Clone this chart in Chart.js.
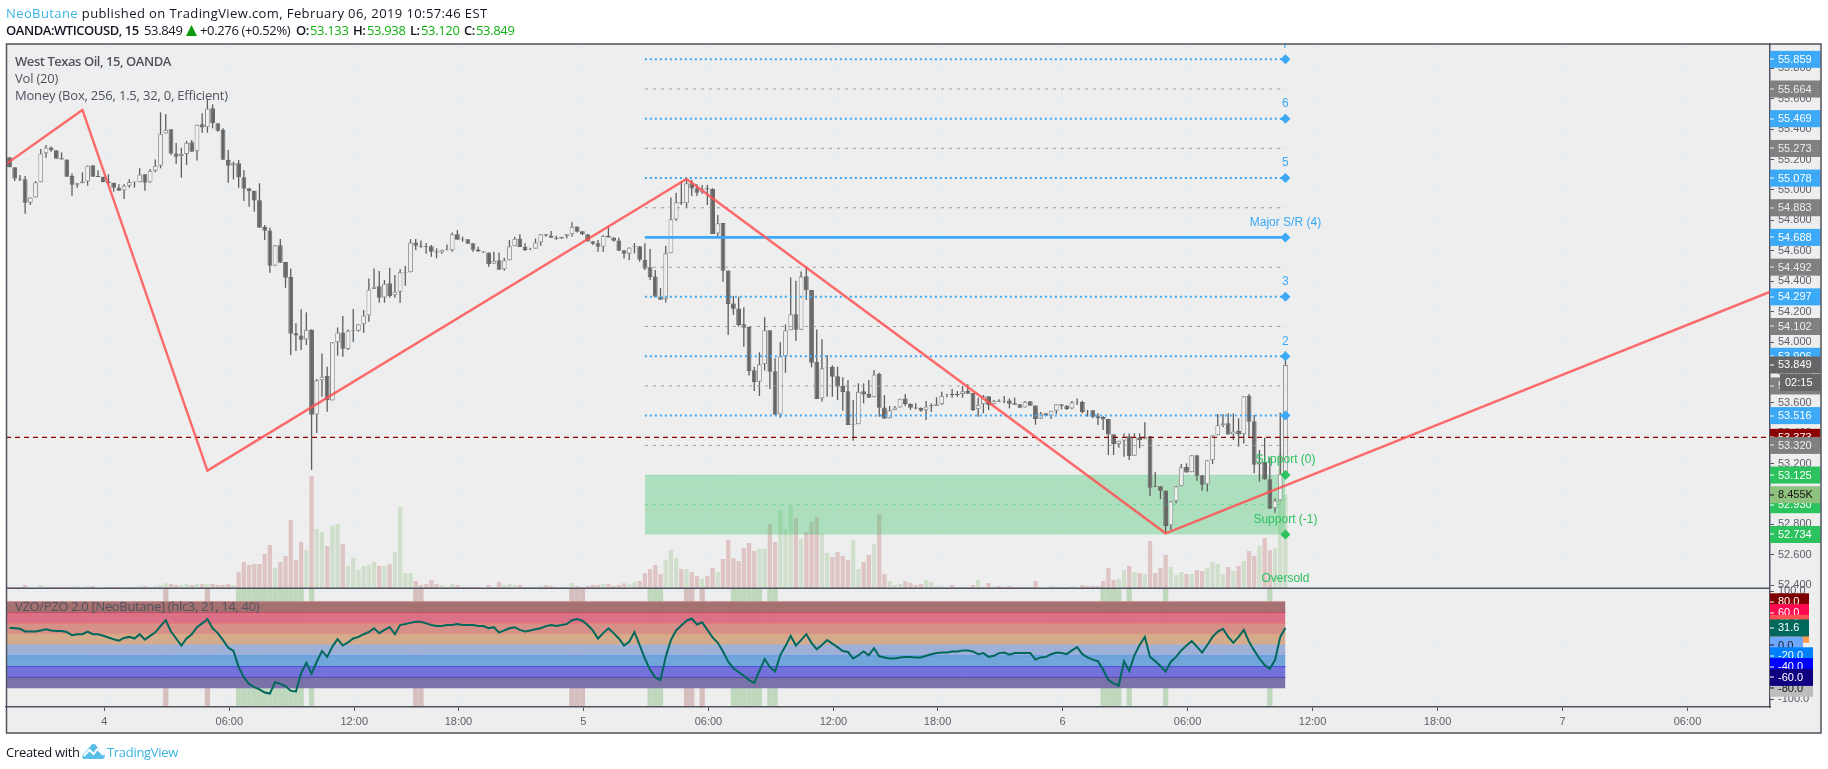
<!DOCTYPE html>
<html><head><meta charset="utf-8">
<style>
html,body{margin:0;padding:0;background:#fff;width:1828px;height:769px;overflow:hidden}
#c{position:absolute;left:0;top:0}
.t{position:absolute;white-space:nowrap;font-family:"Open Sans",sans-serif;font-size:13px;line-height:16px;color:#131722}
.pane{color:#50535E}
.g{color:#14B014}
.b{color:#3BB3E4}
.bd{font-weight:600;letter-spacing:-.45px}
.v{letter-spacing:-.35px}
</style></head><body>
<canvas id="c" width="1828" height="769"></canvas>
<div class="t" style="left:6px;top:5px;letter-spacing:.4px"><span class="b">NeoButane</span> published on TradingView.com, February 06, 2019 10:57:46 EST</div>
<div class="t bd" style="left:6px;top:22px">OANDA:WTICOUSD, 15</div>
<div class="t v" style="left:144px;top:22px">53.849</div>
<svg style="position:absolute;left:186px;top:25px" width="11" height="11" viewBox="0 0 11 11"><path d="M5.5 0L11 11H0Z" fill="#0A9A0A"/></svg>
<div class="t v" style="left:200px;top:22px">+0.276 (+0.52%)</div>
<div class="t bd" style="left:296px;top:22px">O:</div><div class="t v g" style="left:310px;top:22px">53.133</div>
<div class="t bd" style="left:353px;top:22px">H:</div><div class="t v g" style="left:367px;top:22px">53.938</div>
<div class="t bd" style="left:410px;top:22px">L:</div><div class="t v g" style="left:421px;top:22px">53.120</div>
<div class="t bd" style="left:464px;top:22px">C:</div><div class="t v g" style="left:476px;top:22px">53.849</div>
<div class="t pane" style="left:15px;top:53px;font-weight:600;letter-spacing:-.45px">West Texas Oil, 15, OANDA</div>
<div class="t pane" style="left:15px;top:70px;letter-spacing:-.2px">Vol (20)</div>
<div class="t pane" style="left:15px;top:87px;letter-spacing:-.2px">Money (Box, 256, 1.5, 32, 0, Efficient)</div>
<div class="t pane" style="left:15px;top:598px;letter-spacing:-.33px">VZO/PZO 2.0 [NeoButane] (hlc3, 21, 14, 40)</div>
<div class="t" style="left:6px;top:744px;letter-spacing:-.3px">Created with</div>
<svg style="position:absolute;left:81px;top:743px" width="25" height="17" viewBox="0 0 24 17"><path d="M3 16C0 16 0 11 3 10L9 3C11 0 13 0 15 3L21 10C24 11 24 16 21 16Z" fill="#5BBFE8"/><path d="M2 13L8 7L12 11L16 6L22 12" stroke="#fff" stroke-width="2" fill="none"/></svg>
<div class="t b" style="left:107px;top:744px;letter-spacing:-.3px">TradingView</div>
<script src="https://cdn.jsdelivr.net/npm/chart.js@4"></script>
<script>
const opens=[55.215,55.149,55.076,55.070,54.916,54.951,55.050,55.241,55.280,55.261,
55.208,55.201,55.092,55.035,55.044,55.055,55.162,55.092,55.087,55.055,
55.048,55.015,54.997,55.028,55.050,55.050,55.103,55.050,55.127,55.160,
55.372,55.399,55.239,55.223,55.236,55.313,55.254,55.432,55.412,55.537,
55.438,55.394,55.199,55.162,55.175,55.083,55.011,54.995,54.932,54.756,
54.734,54.502,54.636,54.526,54.428,54.057,54.042,54.017,54.083,53.524,
53.748,53.776,53.616,53.998,54.063,53.954,54.072,54.074,54.116,54.175,
54.348,54.366,54.293,54.386,54.307,54.331,54.456,54.458,54.655,54.633,
54.629,54.629,54.596,54.589,54.609,54.603,54.708,54.675,54.675,54.649,
54.609,54.596,54.589,54.515,54.537,54.478,54.537,54.629,54.681,54.627,
54.609,54.614,54.655,54.708,54.701,54.686,54.681,54.695,54.708,54.760,
54.728,54.708,54.662,54.649,54.627,54.699,54.688,54.668,54.603,54.581,
54.625,54.629,54.541,54.491,54.430,54.300,54.281,54.583,54.805,54.919,
54.912,55.044,55.011,54.989,55.011,55.006,54.713,54.783,54.471,54.254,
54.221,54.116,54.099,53.814,53.739,53.853,54.077,53.807,53.524,53.906,
54.077,54.182,54.081,54.432,54.342,53.868,53.629,53.829,53.836,53.774,
53.711,53.676,53.454,53.459,53.676,53.658,53.636,53.790,53.570,53.498,
53.551,53.570,53.629,53.592,53.570,53.566,53.551,53.575,53.579,53.590,
53.654,53.658,53.658,53.658,53.678,53.665,53.557,53.590,53.643,53.590,
53.614,53.614,53.616,53.597,53.590,53.570,53.610,53.583,53.496,53.531,
53.515,53.548,53.590,53.583,53.562,53.603,53.605,53.548,53.551,53.511,
53.507,53.494,53.393,53.329,53.351,53.380,53.252,53.373,53.360,53.380,
53.051,53.051,53.024,52.794,52.952,53.051,53.178,53.143,53.255,53.123,
53.064,53.222,53.386,53.452,53.465,53.391,53.415,53.393,53.645,53.478,
53.195,53.211,53.097,52.906,52.958,53.133];
const closes=[55.149,55.076,55.068,54.916,54.951,55.050,55.239,55.280,55.261,55.206,
55.201,55.087,55.035,55.044,55.055,55.160,55.087,55.085,55.052,55.046,
55.015,54.995,55.028,55.052,55.055,55.101,55.048,55.127,55.160,55.370,
55.396,55.239,55.219,55.236,55.311,55.252,55.429,55.410,55.535,55.438,
55.390,55.199,55.160,55.175,55.083,55.008,54.993,54.930,54.752,54.732,
54.502,54.636,54.522,54.423,54.055,54.042,54.015,54.081,53.522,53.748,
53.772,53.618,53.998,54.063,53.956,54.074,54.078,54.116,54.175,54.346,
54.364,54.291,54.383,54.302,54.331,54.458,54.460,54.655,54.633,54.627,
54.625,54.594,54.589,54.607,54.603,54.708,54.673,54.673,54.646,54.607,
54.596,54.589,54.513,54.535,54.475,54.537,54.629,54.679,54.625,54.605,
54.614,54.655,54.708,54.701,54.686,54.679,54.692,54.708,54.758,54.725,
54.708,54.662,54.646,54.627,54.699,54.688,54.666,54.600,54.581,54.622,
54.629,54.541,54.484,54.428,54.298,54.278,54.583,54.807,54.919,54.912,
55.044,55.009,54.982,55.009,55.004,54.710,54.781,54.469,54.250,54.219,
54.112,54.094,53.809,53.737,53.853,54.077,53.805,53.522,53.906,54.075,
54.182,54.081,54.430,54.340,53.864,53.625,53.827,53.833,53.772,53.706,
53.671,53.454,53.459,53.673,53.654,53.634,53.787,53.568,53.496,53.551,
53.570,53.627,53.592,53.568,53.562,53.548,53.575,53.588,53.590,53.647,
53.658,53.651,53.651,53.676,53.660,53.553,53.588,53.643,53.586,53.614,
53.607,53.610,53.594,53.588,53.568,53.607,53.581,53.494,53.529,53.515,
53.548,53.590,53.581,53.559,53.603,53.607,53.540,53.544,53.509,53.500,
53.491,53.391,53.329,53.351,53.377,53.250,53.373,53.355,53.377,53.042,
53.046,53.022,52.790,52.952,53.051,53.176,53.141,53.255,53.121,53.062,
53.222,53.386,53.452,53.465,53.391,53.412,53.391,53.643,53.476,53.193,
53.208,53.095,52.904,52.958,53.133,53.849];
const highs=[55.215,55.149,55.098,55.092,54.951,55.059,55.269,55.296,55.285,55.261,
55.247,55.201,55.109,55.044,55.116,55.160,55.162,55.129,55.087,55.103,
55.048,55.037,55.037,55.070,55.055,55.142,55.103,55.138,55.201,55.510,
55.500,55.399,55.309,55.278,55.322,55.329,55.429,55.504,55.598,55.563,
55.438,55.405,55.263,55.186,55.197,55.131,55.011,54.995,55.044,54.770,
54.752,54.636,54.677,54.526,54.484,54.123,54.215,54.195,54.083,53.757,
53.925,53.837,53.998,54.096,54.171,54.083,54.217,54.116,54.210,54.418,
54.484,54.467,54.407,54.489,54.440,54.478,54.500,54.677,54.677,54.668,
54.651,54.638,54.616,54.607,54.642,54.721,54.736,54.692,54.675,54.649,
54.627,54.596,54.589,54.594,54.589,54.554,54.671,54.692,54.708,54.649,
54.620,54.681,54.708,54.708,54.730,54.699,54.692,54.708,54.787,54.760,
54.728,54.708,54.662,54.671,54.703,54.758,54.688,54.686,54.603,54.622,
54.651,54.629,54.649,54.612,54.474,54.355,54.631,54.951,54.982,55.054,
55.076,55.065,55.037,55.033,55.033,55.011,54.835,54.783,54.471,54.303,
54.298,54.228,54.101,53.838,53.932,54.162,54.077,53.893,53.998,54.116,
54.425,54.403,54.463,54.495,54.342,54.083,54.018,53.915,53.847,53.838,
53.768,53.750,53.618,53.728,53.728,53.750,53.816,53.798,53.651,53.579,
53.579,53.627,53.658,53.597,53.597,53.570,53.612,53.597,53.636,53.673,
53.658,53.691,53.678,53.711,53.722,53.665,53.634,53.651,53.643,53.619,
53.623,53.645,53.629,53.634,53.590,53.612,53.610,53.583,53.540,53.531,
53.548,53.590,53.590,53.583,53.612,53.629,53.614,53.553,53.551,53.531,
53.511,53.494,53.393,53.351,53.399,53.399,53.399,53.399,53.472,53.380,
53.145,53.051,53.024,52.952,53.051,53.198,53.202,53.255,53.255,53.123,
53.222,53.386,53.526,53.526,53.531,53.531,53.498,53.643,53.658,53.520,
53.290,53.371,53.241,52.972,53.537,53.938];
const lows=[55.149,55.059,55.059,54.844,54.901,54.951,55.050,55.212,55.252,55.206,
55.201,55.087,54.962,55.015,55.044,55.028,55.087,55.085,55.050,55.037,
54.989,54.995,54.940,55.015,55.015,55.050,54.995,55.048,55.116,55.142,
55.372,55.230,55.171,55.081,55.164,55.252,55.193,55.377,55.377,55.405,
55.383,55.199,55.048,55.070,55.015,54.927,54.890,54.857,54.752,54.671,
54.456,54.502,54.522,54.357,53.915,53.941,53.947,53.980,53.158,53.401,
53.640,53.541,53.616,53.910,53.903,53.947,54.000,54.068,54.061,54.133,
54.348,54.258,54.258,54.291,54.291,54.258,54.370,54.458,54.605,54.620,
54.581,54.561,54.550,54.581,54.603,54.594,54.673,54.660,54.646,54.594,
54.594,54.587,54.495,54.515,54.475,54.469,54.537,54.629,54.625,54.598,
54.605,54.614,54.633,54.692,54.686,54.673,54.677,54.681,54.692,54.721,
54.703,54.660,54.638,54.594,54.594,54.688,54.660,54.600,54.550,54.539,
54.583,54.528,54.473,54.408,54.294,54.278,54.259,54.583,54.798,54.901,
54.884,54.960,54.960,54.973,54.901,54.710,54.682,54.397,54.046,54.178,
54.101,53.969,53.779,53.678,53.645,53.812,53.691,53.522,53.502,53.798,
54.077,54.007,54.081,54.276,53.833,53.625,53.608,53.640,53.640,53.618,
53.548,53.454,53.351,53.459,53.597,53.634,53.636,53.509,53.496,53.498,
53.551,53.570,53.579,53.553,53.557,53.542,53.487,53.540,53.579,53.586,
53.636,53.634,53.640,53.634,53.660,53.546,53.509,53.531,53.553,53.590,
53.605,53.597,53.564,53.588,53.568,53.570,53.581,53.456,53.496,53.515,
53.494,53.526,53.557,53.553,53.557,53.586,53.531,53.509,53.498,53.454,
53.421,53.257,53.257,53.305,53.246,53.224,53.252,53.301,53.360,52.987,
53.046,52.967,52.746,52.764,52.939,53.051,53.141,53.143,53.088,53.022,
53.016,53.198,53.386,53.439,53.391,53.355,53.312,53.333,53.377,53.136,
53.082,53.095,52.904,52.877,52.958,53.120];
const volumes=[.12,.12,.12,.30,.09,.09,.30,.12,.12,.12,
.12,.12,.12,.21,.12,.21,.21,0,0,.12,
.12,.12,.09,.06,.12,.21,.21,.12,.21,.30,
.45,.39,.30,.30,.39,.30,.39,.39,.39,.39,
.30,.30,.39,.30,1.47,2.38,2.11,2.20,2.20,3.10,
3.91,1.84,2.38,2.92,6.17,2.56,4.18,3.46,10.14,5.35,
5.08,3.82,5.63,5.81,4.00,2.02,2.74,1.65,2.02,2.11,
2.38,2.02,2.02,2.20,3.28,7.34,1.38,1.38,.66,.30,
.39,.75,.39,.30,.12,.39,.30,.12,.12,.12,
.12,.03,.30,.12,.57,.30,.39,.30,.30,.12,
.12,.12,.21,.30,.21,.12,.12,.12,.48,.21,
.12,.21,.30,.30,.39,.39,.21,.30,.45,.36,
.57,.66,1.38,1.74,2.11,1.29,2.56,3.46,2.74,1.74,
1.74,1.47,1.11,.84,1.11,1.84,1.47,2.65,4.36,2.74,
2.47,3.64,4.09,3.37,3.55,3.55,5.81,4.18,7.07,5.35,
7.43,6.35,4.45,5.08,5.99,6.44,4.96,3.19,2.83,3.28,
2.92,2.56,4.36,1.74,2.38,3.01,4.00,6.71,1.29,.66,
.30,.39,.66,.48,.30,.39,.75,.57,.21,.21,
.12,.30,.12,.12,.12,.30,.75,.12,.48,.18,
.21,.12,.21,.12,.12,.12,.12,.66,.03,.03,
.21,.15,.12,.12,.21,.12,.30,.21,.21,.21,
.66,1.84,.75,.84,1.65,2.02,1.47,1.38,1.29,4.27,
1.38,1.84,3.01,1.93,1.20,1.47,1.29,1.29,1.65,1.56,
1.84,2.38,2.20,1.29,1.93,1.56,2.02,2.47,3.37,2.92,
3.82,4.54,3.43,3.61,12.18,8.455];
const vzo=[32,31,30,25,25,25,27,29,27,26,
26,24,18,20,20,25,20,20,17,14,
10.5,8,13,15,12,20,10,17,23.5,35,
46,25,12,-1,12,20,33,40,48,31,
22,9,-5,-11,-41,-60,-72,-78,-82,-88,
-90,-68.5,-72,-76,-85,-86,-52,-33,-53,-31,
-11,-22,-3,11,-1,5,12,15,20,24,
31,22,28,33,20,37,39,41,43,43,
40,37,35,35,37,37,39,37,37,37,
35,35,31,33,23,27,31,33,28,25,
27,29,31,35,37,35,37,39,46,48,
45,37,27,12,22,31,22,12,-1,6,
24,0,-25,-46,-60,-65,-22,9,27,36,
45,49,38,42,28,14,4,-12,-31,-43,
-50,-57,-65,-70,-48,-26,-41,-49,-19,-2,
17,-1,9,20,4,-8,0,9,2.5,-4,
-11,-13,-25,-19,-12,-19,-6,-21,-23,-25,
-25,-23,-22,-22,-23,-23,-20,-17,-15,-14,
-14,-12,-12,-10,-10,-12,-17,-15,-22,-20,
-15,-14,-18,-15,-15,-15,-15,-27,-23,-22,
-17,-14,-15,-17,-10,-4,-17,-23,-27,-30,
-46,-65,-71,-75,-30,-48,-19,0,15,-22,
-30,-39,-49,-31,-22,-10,-1,7,-3,-14,
0,15,25,30,15,4,15,28,6,-10,
-25,-37,-44,-28,15,31.6];
const signalDown=[30,38,78,79,108,109,110,130,131,133];
const signalUp=[44,45,46,47,48,49,50,51,52,53,54,55,56,58,123,124,125,139,140,141,142,143,144,146,147,210,211,212,213,215,222,242];
const timeTickBars=[18,42,66,86,110,134,158,178,202,226,250,274,298,322];
const timeTickLabels=['4','06:00','12:00','18:00','5','06:00','12:00','18:00','6','06:00','12:00','18:00','7','06:00'];
const priceTicks=[52.4,52.6,52.8,53,53.2,53.4,53.6,53.8,54,54.2,54.4,54.6,54.8,55,55.2,55.4,55.6,55.8];
const vzoTicks=[-100,-80,-60,-40,-20,0,20,40,60,80,100];
const fibMajor=[55.859,55.469,55.078,54.688,54.297,53.906,53.516];
const fibMinor=[55.664,55.273,54.883,54.492,54.102,53.711,53.320];
const fibSupport=[53.125,52.734];
const fibMidSupport=[52.930];
const fibBars=[122,245];
const zigzagBars=[-0.67,14,38,130,222,338];
const zigzagPrices=[55.17,55.526,53.154,55.072,52.742,54.329];
const prevClose=53.373;
const bandEdges=[80,60,40,20,0,-20,-40,-60,-80];
const bandFills=['rgb(165,112,112)','rgb(219,112,135)','rgb(214,144,136)','rgb(212,172,140)','rgb(158,176,216)','rgb(113,166,218)','rgb(114,114,218)','rgb(122,114,168)'];
const bandLines=['rgb(190,130,130)','rgb(195,75,100)','rgb(232,120,120)','rgb(225,160,120)','rgb(158,176,216)','rgb(85,150,235)','rgb(75,75,215)','rgb(85,70,170)'];
const levelNotes=[['7',55.859,'#3BA9F5'],['6',55.469,'#3BA9F5'],['5',55.078,'#3BA9F5'],['Major S/R (4)',54.688,'#3BA9F5'],['3',54.297,'#3BA9F5'],['2',53.906,'#3BA9F5'],['Support (0)',53.125,'#2CC25E'],['Support (-1)',52.734,'#2CC25E']];

const AXIS='#50535E', GRID='#E4EDF4', FONT='"Liberation Sans",Arial,sans-serif';
const BLUE='#3BA9F5', GREEN='#2CC25E', GRAY='#808080';
const bars=opens.map((_,i)=>i);
const isUp=i=>closes[i]>=opens[i];
const ds=[];
let ord=1000;
const add=d=>{d.order=ord--;ds.push(d);return d;};
const fullRange=[-113,103.7];
add({type:'bar',label:'Signal down',yAxisID:'yVzo',grouped:false,barThickness:5.3,backgroundColor:'#D6BEBE',data:signalDown.map(i=>({x:i,y:fullRange})),inflateAmount:0});
add({type:'bar',label:'Signal up',yAxisID:'yVzo',grouped:false,barThickness:5.3,backgroundColor:'#BFD8BD',data:signalUp.map(i=>({x:i,y:fullRange})),inflateAmount:0});
bandFills.forEach((c,k)=>add({type:'line',label:'Band '+bandEdges[k],yAxisID:'yVzo',pointRadius:0,borderWidth:1,borderColor:bandLines[k],backgroundColor:c,
  fill:{value:bandEdges[k+1]},data:[{x:-0.67,y:bandEdges[k]},{x:245,y:bandEdges[k]}]}));
add({type:'line',label:'VZO',yAxisID:'yVzo',pointRadius:0,borderWidth:2,borderColor:'#00695C',tension:0,fill:false,data:bars.map(i=>({x:i,y:vzo[i]}))});
add({type:'bar',label:'Volume',yAxisID:'yVol',grouped:false,barThickness:4.3,inflateAmount:0,
  backgroundColor:bars.map(i=>isUp(i)?'#CFDFCB':'#DFC4C4'),data:bars.map(i=>({x:i,y:volumes[i]}))});
add({type:'line',label:'Support zone',yAxisID:'yPrice',pointRadius:0,borderWidth:1,borderColor:'rgba(44,194,94,.12)',backgroundColor:'rgba(44,194,94,.33)',
  fill:{value:fibSupport[1]},data:fibBars.map(x=>({x,y:fibSupport[0]}))});
add({type:'bar',label:'Wicks',yAxisID:'yPrice',grouped:false,barThickness:1.3,inflateAmount:0,backgroundColor:'#5E5E5E',data:bars.map(i=>({x:i,y:[lows[i],highs[i]]}))});
add({type:'bar',label:'Bodies',yAxisID:'yPrice',grouped:false,barThickness:4.8,inflateAmount:0,borderWidth:1,borderSkipped:false,
  backgroundColor:bars.map(i=>isUp(i)?'#F0F0F0':'#666666'),borderColor:bars.map(i=>isUp(i)?'#8E8E8E':'#666666'),
  data:bars.map(i=>({x:i,y:[Math.min(opens[i],closes[i]),Math.max(opens[i],closes[i])]}))});
fibMinor.forEach(v=>add({type:'line',label:'Level '+v,yAxisID:'yPrice',pointRadius:0,borderWidth:1,borderColor:'#9B9B9B',borderDash:[3,5],fill:false,data:fibBars.map(x=>({x,y:v}))}));
fibMidSupport.forEach(v=>add({type:'line',label:'Level '+v,yAxisID:'yPrice',pointRadius:0,borderWidth:1,borderColor:'rgba(44,194,94,.5)',borderDash:[3,5],fill:false,data:fibBars.map(x=>({x,y:v}))}));
const diamonds=c=>({pointStyle:'rectRot',pointRadius:[0,5],pointBackgroundColor:c,pointBorderColor:c,pointBorderWidth:0});
fibMajor.forEach(v=>{const solid=v===54.688;
  add(Object.assign({type:'line',label:'Level '+v,yAxisID:'yPrice',borderWidth:solid?2.6:2,borderColor:BLUE,borderDash:solid?[]:[2,3],fill:false,data:fibBars.map(x=>({x,y:v}))},diamonds(BLUE)));});
fibSupport.forEach(v=>add(Object.assign({type:'line',label:'Level '+v,yAxisID:'yPrice',borderWidth:0,borderColor:GREEN,fill:false,data:fibBars.map(x=>({x,y:v}))},diamonds(GREEN))));
add({type:'line',label:'Previous close',yAxisID:'yPrice',pointRadius:0,borderWidth:1.3,borderColor:'#8B0000',borderDash:[5,4],fill:false,data:[{x:-0.67,y:prevClose},{x:338,y:prevClose}]});
add({type:'line',label:'Zigzag',yAxisID:'yPrice',pointRadius:0,borderWidth:2.4,borderColor:'rgba(255,82,82,.85)',fill:false,tension:0,data:zigzagBars.map((x,k)=>({x,y:zigzagPrices[k]}))});

const pricePanel=[
 [55.859,'55.859',BLUE,'#fff'],[55.664,'55.664',GRAY,'#eee'],[55.469,'55.469',BLUE,'#fff'],[55.273,'55.273',GRAY,'#eee'],
 [55.078,'55.078',BLUE,'#fff'],[54.883,'54.883',GRAY,'#eee'],[54.688,'54.688',BLUE,'#fff'],[54.492,'54.492',GRAY,'#eee'],
 [54.297,'54.297',BLUE,'#fff'],[54.102,'54.102',GRAY,'#eee'],[53.906,'53.906',BLUE,'#fff'],[53.711,'53.711',GRAY,'#eee'],
 [53.516,'53.516',BLUE,'#fff'],[53.373,'53.373','#8B0000','#fff'],[53.320,'53.320',GRAY,'#eee'],[53.125,'53.125',GREEN,'#fff'],
 [52.930,'52.930',GREEN,'#fff'],[52.734,'52.734',GREEN,'#fff'],[53.849,'53.849','#666666','#fff']];
const vzoPanel=[[80,'80.0','#7F0000','#fff',39],[60,'60.0','#FF0A50','#fff',39],[40,'40.0','#FF5252','#fff',39],[20,'20.0','#FF9A4D','#fff',39],
 [0,'0.0','#6FA8FF','#131722',33],[-20,'-20.0','#007FFF','#fff',43],[-40,'-40.0','#0000FF','#fff',43],[-80,'-80.0','#BDBDBD','#131722',43],[-60,'-60.0','#10007F','#fff',43],[31.6,'31.6','#00695C','#fff',39]];
const volumeTag=[8.455,'8.455K','#8FC17F','#111'];

const framePlugin={id:'frame',
 afterLayout(c){const s=c.scales.yVzo;s.right=s.left+51;s.width=51;},
 beforeDraw(c){const x=c.ctx;x.save();x.fillStyle='#EEEEEE';x.fillRect(6,44,1815,689);x.restore();},
 afterDatasetsDraw(c){const x=c.ctx,a=c.chartArea,y=c.scales.yPrice;x.save();
  x.beginPath();x.rect(a.left,a.top,a.right-a.left,a.bottom-a.top);x.clip();
  x.font='12px '+FONT;x.textAlign='center';x.textBaseline='middle';
  const cx=c.scales.x.getPixelForValue(fibBars[1]);
  levelNotes.forEach(([t,v,col])=>{x.fillStyle=col;x.fillText(t,cx,y.getPixelForValue(v)-15);});
  x.fillStyle=GREEN;x.fillText('Oversold',cx,579);
  x.strokeStyle=AXIS;x.lineWidth=1.5;x.beginPath();x.moveTo(a.left,588.3);x.lineTo(a.right,588.3);x.stroke();
  x.restore();},
 afterDraw(c){const x=c.ctx,yP=c.scales.yPrice,yV=c.scales.yVzo,yK=c.scales.yVol,R=c.chartArea.right;x.save();
  x.font='11px '+FONT;x.textBaseline='middle';x.textAlign='left';
  const tag=(py,t,bg,fg,w)=>{x.fillStyle=bg;x.fillRect(R,py-8.5,w,17);x.fillStyle=fg;x.fillRect(R,Math.round(py)-.5,4,1);x.fillText(t,R+8,py+.5);};
  pricePanel.slice(0,18).forEach(([v,t,bg,fg])=>tag(yP.getPixelForValue(v),t,bg,fg,50.5));
  const py=yK.getPixelForValue(volumeTag[0]);tag(py,volumeTag[1],volumeTag[2],volumeTag[3],50.5);
  const last=pricePanel[18],lp=yP.getPixelForValue(last[0]);tag(lp,last[1],last[2],last[3],50.5);
  x.fillStyle='#666666';x.fillRect(R+10,lp+9,40.5,17);x.fillStyle='#fff';x.fillText('02:15',R+15,lp+18);
  vzoPanel.forEach(([v,t,bg,fg,w])=>tag(yV.getPixelForValue(v),t,bg,fg,w));
  x.strokeStyle=AXIS;x.lineWidth=1.5;x.strokeRect(6.5,44,1814.5,689);
  x.restore();}
};
new Chart(document.getElementById('c'),{
 type:'bar',
 data:{datasets:ds},
 plugins:[framePlugin],
 options:{responsive:false,animation:false,events:[],
  layout:{padding:{left:6,top:44,right:7,bottom:36}},
  plugins:{legend:{display:false},tooltip:{enabled:false},title:{display:false}},
  scales:{
   x:{type:'linear',position:'bottom',offset:false,min:-0.672,max:338.04,
     grid:{offset:false,color:GRID,tickColor:AXIS,tickLength:4,lineWidth:1},
     border:{color:AXIS,width:1.5},
     afterBuildTicks:s=>{s.ticks=timeTickBars.map(v=>({value:v+0.2}));},
     afterFit:s=>{s.height=26;},
     ticks:{autoSkip:false,maxRotation:0,padding:4,color:'#5D606B',font:{family:FONT,size:11},
       callback:(v,k)=>timeTickLabels[k]}},
   yVzo:{type:'linear',position:'right',min:-114.81,max:1112.96,weight:0,
     afterBuildTicks:s=>{s.ticks=vzoTicks.map(v=>({value:v}));},
     afterFit:s=>{s.width=0;},
     grid:{color:c=>c.tick&&c.tick.value%100===0?GRID:'rgba(0,0,0,0)',tickColor:AXIS,tickLength:4},
     border:{display:false},
     ticks:{autoSkip:false,padding:4,color:'#5D606B',font:{family:FONT,size:11},callback:v=>Number(v).toFixed(1)}},
   yPrice:{type:'linear',position:'right',min:51.5995,max:55.9599,weight:1,
     afterBuildTicks:s=>{s.ticks=priceTicks.map(v=>({value:v}));},
     afterFit:s=>{s.width=51;},
     grid:{color:GRID,tickColor:AXIS,tickLength:4},
     border:{color:AXIS,width:1.5},
     ticks:{autoSkip:false,padding:4,color:'#5D606B',font:{family:FONT,size:11},callback:v=>Number(v).toFixed(3)}},
   yVol:{type:'linear',display:false,min:-10.71,max:49.13}
  }}
});
</script>
</body></html>
